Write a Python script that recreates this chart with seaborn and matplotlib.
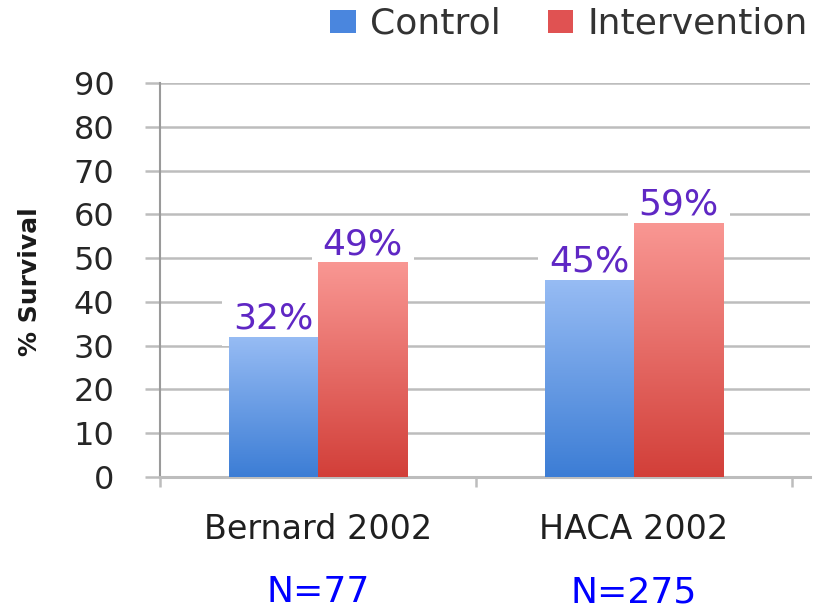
import numpy as np
import pandas as pd
import seaborn as sns
import matplotlib.pyplot as plt
from matplotlib.colors import LinearSegmentedColormap
from matplotlib.patches import Patch

studies = ["Bernard 2002", "HACA 2002"]
groups = ["Control", "Intervention"]
control = [32, 45]
intervention = [49, 58]
control_labels = ["32%", "45%"]
intervention_labels = ["49%", "59%"]
n_labels = ["N=77", "N=275"]

df = pd.DataFrame({
    "study": studies * 2,
    "group": ["Control"] * 2 + ["Intervention"] * 2,
    "survival": control + intervention,
})

sns.set_style("white")
plt.rcParams['font.family'] = ['DejaVu Sans']

fig = plt.figure(figsize=(8.13, 6.12), dpi=100)
ax = fig.add_axes([0.197, 0.2206, 0.7993, 0.6438])

swatch = {"Control": "#4a86de", "Intervention": "#e05252"}
grads = {"Control": ("#3c7dd5", "#97bcf4"), "Intervention": ("#d23f39", "#f99793")}
purple = "#5f27c4"

sns.barplot(data=df, x="study", y="survival", hue="group", hue_order=groups,
            palette=swatch, width=0.565, saturation=1, ax=ax, legend=False,
            linewidth=0, zorder=3)

# vertical gradient inside each bar
grad = np.linspace(1, 0, 256).reshape(-1, 1)
for cont, g, labs in zip(ax.containers, groups, [control_labels, intervention_labels]):
    cmap = LinearSegmentedColormap.from_list(g, [grads[g][0], grads[g][1]])
    for bar in cont:
        x0, w, h = bar.get_x(), bar.get_width(), bar.get_height()
        im = ax.imshow(grad, cmap=cmap, extent=[x0, x0 + w, 0, h], aspect="auto",
                       origin="upper", zorder=3)
        im.set_clip_path(bar)
        bar.set_facecolor("none")
    ax.bar_label(cont, labels=labs, padding=1, color=purple, fontsize=26, zorder=2.5,
                 bbox=dict(facecolor="white", edgecolor="none", boxstyle="square,pad=0.3"))

ax.set_xlim(-0.5, 1.557)
ax.set_ylim(0, 90)
ax.set_yticks(range(0, 91, 10))
ax.set_axisbelow(True)
ax.yaxis.grid(True, color="#bdbdbd", linewidth=1.8)
for s in ["top", "right"]:
    ax.spines[s].set_visible(False)
ax.spines["left"].set_color("#9a9a9a")
ax.spines["left"].set_linewidth(1.5)
ax.spines["bottom"].set_color("#bdbdbd")
ax.spines["bottom"].set_linewidth(2.2)

ax.tick_params(axis="y", left=True, length=11, width=1.8, color="#bdbdbd", pad=22,
               labelsize=23, labelcolor="#262626")
ax.set_xticks([0, 1])
ax.set_xticklabels(studies)
ax.set_xticks([-0.5, 0.5, 1.5], minor=True)
ax.tick_params(axis="x", which="major", bottom=True, length=0, pad=26, labelsize=24,
               labelcolor="#1f1f1f")
ax.tick_params(axis="x", which="minor", bottom=True, length=7, width=1.8, color="#bdbdbd",
               direction="out")
ax.set_xlabel("")
ax.set_ylabel("")

for i, t in enumerate(n_labels):
    ax.text(i, -0.292, t, transform=ax.get_xaxis_transform(), ha="center", va="center",
            fontsize=26, color="#0000ff")

fig.text(30 / 813, 1 - 282 / 612, "% Survival", rotation=90, fontweight="bold",
         fontsize=18, ha="center", va="center", color="#1a1a1a")

handles = [Patch(facecolor=swatch[g], edgecolor="none") for g in groups]
fig.legend(handles, groups, loc="center right", bbox_to_anchor=(808 / 813, 1 - 24 / 612),
           ncol=2, frameon=False, fontsize=26, handlelength=0.7, handleheight=0.6,
           handletextpad=0.4, columnspacing=1.3, borderpad=0, borderaxespad=0,
           labelcolor="#333333")

fig.savefig("out.png", dpi=100)
